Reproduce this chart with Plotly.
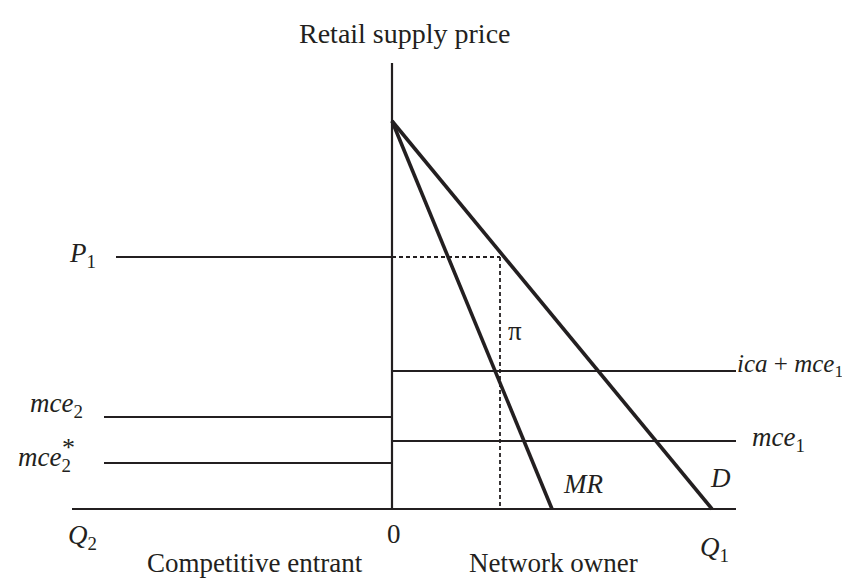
import plotly.graph_objects as go

# ---- data (economic units) ----
apex_price = 9.7          # vertical intercept of D and MR
d_intercept = 8.0         # D meets quantity axis (Q1 side)
mr_intercept = 4.0        # MR meets quantity axis
p1 = 6.3                  # monopoly price P1
q_star = 2.7              # quantity at P1 (dashed line)
ica_mce1 = 3.45           # ica + mce1
mce1 = 1.7
mce2 = 2.3
mce2_star = 1.15
q2_end = -8.0             # left end of quantity axis (Q2 side)
q1_end = 8.6              # right end of quantity axis
p1_left = -6.9            # left start of P1 line
mce2_left = -7.2          # left start of mce2 lines
price_top = 11.15         # top of price axis

INK = "#231f20"
FONT = "Liberation Serif"

fig = go.Figure()

def seg(xs, ys, width, dash=None):
    fig.add_trace(go.Scatter(x=xs, y=ys, mode="lines",
                             line=dict(color=INK, width=width, dash=dash),
                             hoverinfo="skip", showlegend=False))

# axes
seg([q2_end, q1_end], [0, 0], 2.2)
seg([0, 0], [0, price_top], 2.2)
# horizontal price lines
seg([p1_left, 0], [p1, p1], 1.8)
seg([mce2_left, 0], [mce2, mce2], 1.8)
seg([mce2_left, 0], [mce2_star, mce2_star], 1.8)
seg([0, q1_end], [ica_mce1, ica_mce1], 1.8)
seg([0, q1_end], [mce1, mce1], 1.8)
# dashed
seg([0, q_star], [p1, p1], 1.8, "4px,3px")
seg([q_star, q_star], [p1, 0], 1.8, "4px,3px")
# demand & MR
seg([0, d_intercept], [apex_price, 0], 3.6)
seg([0, mr_intercept], [apex_price, 0], 3.6)

def lab(x, y, text, xanchor="center", size=27):
    fig.add_annotation(x=x, y=y, text=text, showarrow=False, xanchor=xanchor,
                       yanchor="middle", font=dict(family=FONT, size=size, color=INK))

lab(0.33, 11.9, "Retail supply price", size=28)
lab(-7.75, p1 + 0.05, "<i>P</i><sub>1</sub>")
lab(-8.4, mce2 + 0.3, "<i>mce</i><sub>2</sub>")
lab(-9.4, mce2_star + 0.1, "<i>mce</i><sub>2</sub>", xanchor="left")
lab(-8.08, mce2_star + 0.38, "*", size=26)
lab(8.58, ica_mce1 + 0.15, "<i>ica</i> + <i>mce</i><sub>1</sub>", xanchor="left", size=25)
lab(8.95, mce1 + 0.05, "<i>mce</i><sub>1</sub>", xanchor="left")
lab(4.77, 0.62, "<i>MR</i>")
lab(8.22, 0.77, "<i>D</i>")
lab(3.07, 4.45, "π")
lab(0.06, -0.62, "0")
lab(-7.75, -0.7, "<i>Q</i><sub>2</sub>")
lab(8.05, -1.0, "<i>Q</i><sub>1</sub>")
lab(-3.42, -1.36, "Competitive entrant", size=27)
lab(4.03, -1.36, "Network owner", size=27)

fig.update_layout(
    width=850, height=578, autosize=False,
    margin=dict(l=0, r=0, t=0, b=0),
    paper_bgcolor="white", plot_bgcolor="white",
    xaxis=dict(range=[-9.6, 11.65], visible=False, fixedrange=True),
    yaxis=dict(range=[-1.925, 12.525], visible=False, fixedrange=True),
    showlegend=False,
)

fig.write_html("out.html")
